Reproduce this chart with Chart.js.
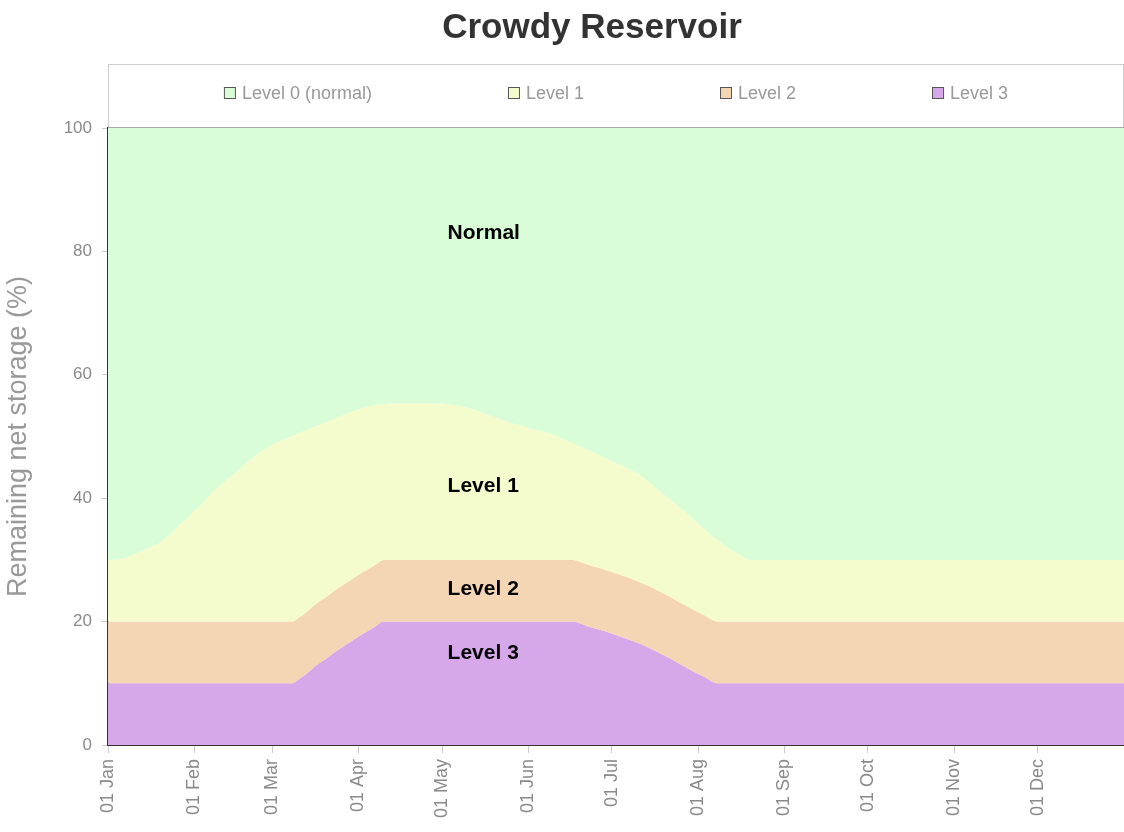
<!DOCTYPE html>
<html>
<head>
<meta charset="utf-8">
<title>Crowdy Reservoir</title>
<script src="https://cdn.jsdelivr.net/npm/chart.js@4.4.1/dist/chart.umd.min.js"></script>
<style>
  html, body { margin: 0; padding: 0; background: #fff; }
  #wrap { width: 1124px; height: 832px; }
</style>
</head>
<body>
<div id="wrap"><canvas id="myChart"></canvas></div>
<script>
// x values are day of the year, y values are % of remaining net storage
var monthStarts = [0, 31, 59, 90, 120, 151, 181, 212, 243, 273, 304, 334];
var monthLabels = ["01 Jan", "01 Feb", "01 Mar", "01 Apr", "01 May", "01 Jun",
                   "01 Jul", "01 Aug", "01 Sep", "01 Oct", "01 Nov", "01 Dec"];
var yTicks = [0, 20, 40, 60, 80, 100];

var seriesNames = ["Level 0 (normal)", "Level 1", "Level 2", "Level 3"];
var bandNames = ["Normal", "Level 1", "Level 2", "Level 3"];

var normalDays = [0, 365];
var normalValues = [100, 100];

var level1Days = [0, 5, 10, 14, 18, 22, 26, 30, 34, 38, 42, 46, 50, 55, 60, 66, 72, 80, 88, 96,
                  105, 115, 125, 132, 138, 145, 152, 160, 168, 176, 184, 191, 198, 205, 212, 219, 226, 231, 365];
var level1Values = [30, 30.2, 31, 31.8, 32.7, 34, 35.8, 37.5, 39.2, 41.2, 42.7, 44.2, 45.8, 47.6, 48.9, 50, 51.2, 52.6, 54.1, 55.1,
                    55.4, 55.4, 55.1, 54.3, 53.3, 52.2, 51.3, 50.3, 48.7, 47.1, 45.4, 43.8, 41.2, 38.7, 35.9, 33.2, 31.1, 30, 30];

var level2Days = [0, 66, 69, 72, 74, 76, 79, 81, 84, 87, 90, 93, 96, 99,
                  167, 172, 178, 184, 190, 196, 202, 208, 214, 219, 365];
var level2Values = [20, 20, 20.8, 21.8, 22.6, 23.3, 24.2, 24.9, 25.8, 26.7, 27.6, 28.4, 29.2, 30,
                    30, 29.3, 28.5, 27.6, 26.6, 25.4, 24, 22.5, 21.1, 20, 20];

var level3Days = [0, 66, 69, 72, 74, 76, 79, 81, 84, 87, 90, 93, 96, 99,
                  167, 172, 178, 184, 190, 196, 202, 208, 214, 219, 365];
var level3Values = [10, 10, 10.8, 11.8, 12.6, 13.3, 14.2, 14.9, 15.8, 16.7, 17.6, 18.4, 19.2, 20,
                    20, 19.3, 18.5, 17.6, 16.6, 15.4, 14, 12.5, 11.1, 10, 10];

// where the band names sit: day of year and % value
var bandLabelDay = 122;
var bandLabelValues = [83, 42, 25.2, 14.8];

var colors = ["rgb(216,253,215)", "rgb(244,252,205)", "rgb(245,214,180)", "rgb(214,168,234)"];

function toPoints(days, values) {
  return days.map(function (d, i) { return { x: d, y: values[i] }; });
}

var FONT = "'Liberation Sans', Arial, sans-serif";
Chart.defaults.font.family = FONT;

// title, boxed legend and the names written inside the bands
var decorPlugin = {
  id: "decor",
  afterDraw: function (chart) {
    var ctx = chart.ctx;
    var area = chart.chartArea;
    ctx.save();

    // title
    ctx.fillStyle = "#333";
    ctx.font = "bold 35px " + FONT;
    ctx.textAlign = "center";
    ctx.textBaseline = "middle";
    ctx.fillText("Crowdy Reservoir", 592, 28);

    // legend frame
    ctx.strokeStyle = "#cfcfcf";
    ctx.lineWidth = 1;
    ctx.strokeRect(area.left + 0.5, 64.5, area.right - area.left - 1, area.top - 65);
    ctx.strokeStyle = "#a8a8a8";
    ctx.beginPath();
    ctx.moveTo(area.left, area.top - 0.5);
    ctx.lineTo(area.right, area.top - 0.5);
    ctx.stroke();

    // legend items
    ctx.font = "18px " + FONT;
    ctx.textAlign = "left";
    var box = 12, boxGap = 6, itemGap = 136;
    var widths = seriesNames.map(function (n) { return box + boxGap + ctx.measureText(n).width; });
    var total = widths.reduce(function (a, b) { return a + b; }, 0) + itemGap * (widths.length - 1);
    var x = (area.left + area.right) / 2 - total / 2;
    var ly = 93;
    seriesNames.forEach(function (n, i) {
      ctx.fillStyle = colors[i];
      ctx.fillRect(x, ly - box / 2, box, box);
      ctx.strokeStyle = "#555";
      ctx.strokeRect(x + 0.5, ly - box / 2 + 0.5, box - 1, box - 1);
      ctx.fillStyle = "#999";
      ctx.fillText(n, x + box + boxGap, ly + 1);
      x += widths[i] + itemGap;
    });

    // band names
    var xs = chart.scales.x, ys = chart.scales.y;
    ctx.fillStyle = "#000";
    ctx.font = "bold 21px " + FONT;
    bandNames.forEach(function (n, i) {
      ctx.fillText(n, xs.getPixelForValue(bandLabelDay), ys.getPixelForValue(bandLabelValues[i]));
    });
    ctx.restore();
  }
};

function band(i, days, values, fill) {
  return {
    label: seriesNames[i],
    data: toPoints(days, values),
    backgroundColor: colors[i],
    borderWidth: 0,
    pointRadius: 0,
    cubicInterpolationMode: "monotone",
    fill: fill
  };
}

var config = {
  type: "line",
  data: {
    datasets: [
      band(0, normalDays, normalValues, "+1"),
      band(1, level1Days, level1Values, "+1"),
      band(2, level2Days, level2Values, "+1"),
      band(3, level3Days, level3Values, "origin")
    ]
  },
  options: {
    responsive: true,
    maintainAspectRatio: false,
    animation: false,
    layout: { padding: { top: 128, right: 0, bottom: 0, left: 0 } },
    plugins: {
      legend: { display: false },
      title: { display: false },
      tooltip: { enabled: false }
    },
    scales: {
      x: {
        type: "linear",
        min: 0,
        max: 365,
        afterBuildTicks: function (scale) {
          scale.ticks = monthStarts.map(function (v) { return { value: v }; });
        },
        afterFit: function (scale) { scale.height = 87; },
        ticks: {
          autoSkip: false,
          minRotation: 90,
          maxRotation: 90,
          padding: 6,
          color: "#8a8a8a",
          font: { size: 18 },
          callback: function (value, index) { return monthLabels[index]; }
        },
        grid: { drawOnChartArea: false, color: "#cccccc", tickLength: 8 },
        border: { color: "#333", width: 2 }
      },
      y: {
        min: 0,
        max: 100,
        afterBuildTicks: function (scale) {
          scale.ticks = yTicks.map(function (v) { return { value: v }; });
        },
        afterFit: function (scale) { scale.width = 108; },
        ticks: { color: "#8a8a8a", font: { size: 17 }, padding: 10 },
        grid: { drawOnChartArea: false, color: "#cccccc", tickLength: 6 },
        border: { color: "#333", width: 2 },
        title: {
          display: true,
          text: "Remaining net storage (%)",
          color: "#999",
          font: { size: 27 },
          padding: { top: 2, bottom: 0 }
        }
      }
    }
  },
  plugins: [decorPlugin]
};

var myChart = new Chart(document.getElementById("myChart"), config);
</script>
</body>
</html>
